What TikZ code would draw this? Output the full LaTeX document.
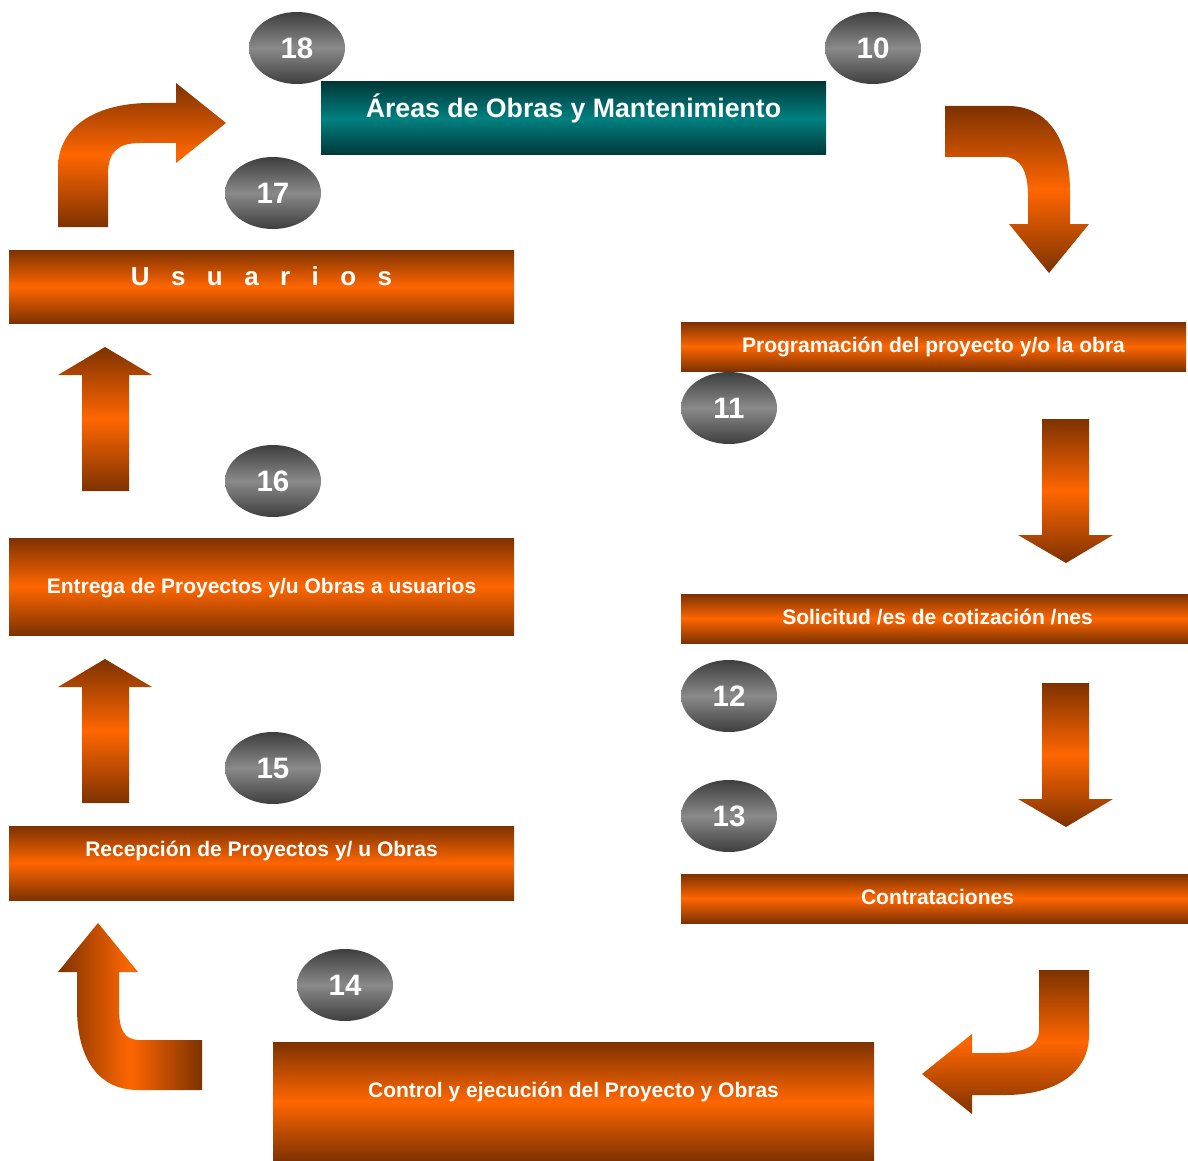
\documentclass[tikz,border=0pt]{standalone}
\usepackage{fontspec}
\setmainfont{Liberation Sans}
\usetikzlibrary{shapes.geometric}
\definecolor{brdark}{RGB}{125,50,0}
\definecolor{orng}{RGB}{255,102,0}
\definecolor{tealmid}{RGB}{0,128,128}
\definecolor{tealdark}{RGB}{0,56,56}
\definecolor{graymid}{RGB}{138,138,138}
\definecolor{graydark}{RGB}{62,62,62}
\begin{document}
\begin{tikzpicture}[x=1pt,y=-1pt,
  obar/.style={rectangle, draw=none, inner sep=0pt,
    top color=brdark, bottom color=brdark, middle color=orng},
  tbar/.style={rectangle, draw=none, inner sep=0pt,
    top color=tealdark, bottom color=tealdark, middle color=tealmid},
  btext/.style={text=white, anchor=base, inner sep=0pt,
    font=\bfseries\fontsize{21}{25}\selectfont},
  num/.style={ellipse, draw=none, inner sep=0pt,
    minimum width=96pt, minimum height=72pt,
    top color=graydark, bottom color=graydark, middle color=graymid,
    text=white, font=\bfseries\fontsize{29.5}{33}\selectfont},
  varr/.style={draw=none, top color=brdark, bottom color=brdark, middle color=orng},
  harr/.style={draw=none, left color=brdark, right color=brdark, middle color=orng}]
\useasboundingbox (0,0) rectangle (1188,1161);

% process boxes
\node[tbar, minimum width=505pt, minimum height=73pt] (areas) at (573.5,118.5) {};
\node[obar, minimum width=505pt, minimum height=73pt] (usuarios) at (261.5,286.5) {};
\node[obar, minimum width=505pt, minimum height=97pt] (entrega) at (261.5,586.5) {};
\node[obar, minimum width=505pt, minimum height=74pt] (recepcion) at (261.5,863) {};
\node[obar, minimum width=601pt, minimum height=119pt] (control) at (573.5,1101.5) {};
\node[obar, minimum width=505pt, minimum height=49pt] (programa) at (933.5,346.5) {};
\node[obar, minimum width=507pt, minimum height=49pt] (solicitud) at (934.5,618.5) {};
\node[obar, minimum width=507pt, minimum height=49pt] (contrata) at (934.5,898.5) {};

% box captions
\node[btext, font=\bfseries\fontsize{26.7}{30}\selectfont] (t-areas) at (573.5,118) {Áreas de Obras y Mantenimiento};
\node[btext, font=\bfseries\fontsize{26}{30}\selectfont] (t-usuarios) at (261.5,285)
  {U\hspace{21.4pt}s\hspace{21.4pt}u\hspace{21.4pt}a\hspace{21.4pt}r\hspace{21.4pt}i\hspace{21.4pt}o\hspace{21.4pt}s};
\node[btext] (t-entrega) at (261.5,593) {Entrega de Proyectos y/u Obras a usuarios};
\node[btext] (t-recepcion) at (261.5,856) {Recepción de Proyectos y/ u Obras};
\node[btext] (t-control) at (573.5,1097) {Control y ejecución del Proyecto y Obras};
\node[btext] (t-programa) at (933.5,352) {Programación del proyecto y/o la obra};
\node[btext] (t-solicitud) at (937.5,624) {Solicitud /es de cotización /nes};
\node[btext] (t-contrata) at (937.5,904) {Contrataciones};

% step numbers
\node[num] (n18) at (297,48) {18};
\node[num] (n10) at (873,48) {10};
\node[num] (n17) at (273,193) {17};
\node[num] (n11) at (729,408) {11};
\node[num] (n16) at (273,481) {16};
\node[num] (n12) at (729,696) {12};
\node[num] (n15) at (273,768) {15};
\node[num] (n13) at (729,816) {13};
\node[num] (n14) at (345,985) {14};

% bent block arrows
\path[varr] (58,227) -- (58,168) .. controls (58,124) and (100,103) .. (150,103)
  -- (176,103) -- (176,83) -- (226,123) -- (176,163) -- (176,143) -- (140,143)
  .. controls (118,143) and (108,152) .. (108,174) -- (108,227) -- cycle;
\path[varr] (945,106) -- (1008,106) .. controls (1048,106) and (1070,140) .. (1070,192)
  -- (1070,224) -- (1089,224) -- (1049,273) -- (1009,224) -- (1028,224) -- (1028,196)
  .. controls (1028,172) and (1021,157) .. (1004,157) -- (945,157) -- cycle;
\path[varr] (1039,970) -- (1089,970) -- (1089,1035) .. controls (1089,1075) and (1052,1095) .. (1005,1095)
  -- (972,1095) -- (972,1114) -- (922,1074) -- (972,1034) -- (972,1053) -- (998,1053)
  .. controls (1024,1053) and (1039,1046) .. (1039,1030) -- cycle;
\path[harr] (202,1040) -- (202,1090) -- (138,1090) .. controls (98,1090) and (77,1058) .. (77,1008)
  -- (77,972) -- (58,972) -- (98,923) -- (138,972) -- (119,972) -- (119,1008)
  .. controls (119,1030) and (124,1040) .. (140,1040) -- cycle;

% straight block arrows
\path[varr] (82,491) -- (82,375) -- (58,375) -- (105,347) -- (152,375) -- (129,375) -- (129,491) -- cycle;
\path[varr] (82,803) -- (82,687) -- (58,687) -- (105,659) -- (152,687) -- (129,687) -- (129,803) -- cycle;
\path[varr] (1042,419) -- (1089,419) -- (1089,535) -- (1113,535) -- (1066,563) -- (1018,535) -- (1042,535) -- cycle;
\path[varr] (1042,683) -- (1089,683) -- (1089,799) -- (1113,799) -- (1066,827) -- (1018,799) -- (1042,799) -- cycle;
\end{tikzpicture}
\end{document}
